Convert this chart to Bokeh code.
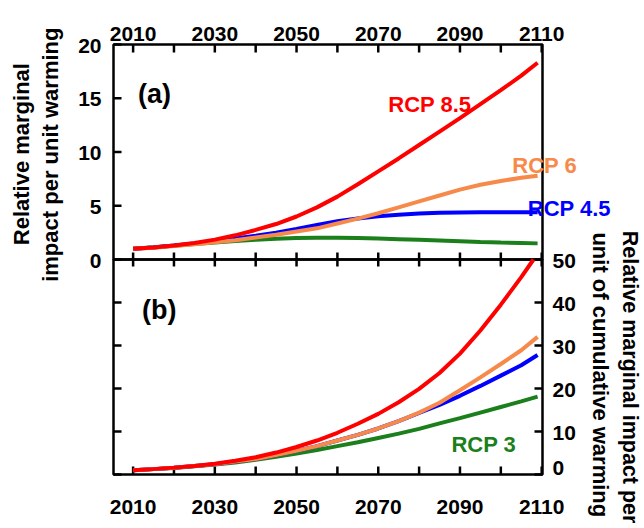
import math

from bokeh.core.properties import value
from bokeh.embed import file_html
from bokeh.models import Range1d
from bokeh.plotting import figure
from bokeh.resources import INLINE

# ---- data -----------------------------------------------------------------
years = [2010, 2015, 2020, 2025, 2030, 2035, 2040, 2045, 2050, 2055, 2060,
         2065, 2070, 2075, 2080, 2085, 2090, 2095, 2100, 2105, 2109]
years_red_b = years[:-2] + [2105, 2108]

# (a) relative marginal impact per unit warming
a_rcp85 = [1.0, 1.12, 1.3, 1.53, 1.85, 2.25, 2.75, 3.3, 4.0, 4.85, 5.85,
           7.0, 8.2, 9.4, 10.65, 11.9, 13.15, 14.45, 15.75, 17.1, 18.3]
a_rcp6 = [1.0, 1.1, 1.25, 1.42, 1.6, 1.8, 2.05, 2.3, 2.6, 2.9, 3.35,
          3.8, 4.3, 4.85, 5.4, 5.95, 6.5, 6.95, 7.3, 7.6, 7.8]
a_rcp45 = [1.0, 1.12, 1.3, 1.5, 1.72, 1.95, 2.2, 2.5, 2.85, 3.22, 3.55,
           3.82, 4.02, 4.16, 4.27, 4.34, 4.37, 4.39, 4.4, 4.4, 4.4]
a_rcp3 = [1.0, 1.13, 1.28, 1.43, 1.58, 1.72, 1.84, 1.93, 1.99, 2.02, 2.02,
          1.99, 1.95, 1.89, 1.83, 1.76, 1.69, 1.62, 1.57, 1.53, 1.5]

# (b) relative marginal impact per unit of cumulative warming
b_rcp85 = [1.0, 1.25, 1.6, 2.0, 2.5, 3.2, 4.0, 5.1, 6.4, 7.9, 9.7,
           11.8, 14.1, 16.8, 19.9, 23.6, 28.1, 33.5, 39.5, 45.9, 50.0]
b_rcp6 = [1.0, 1.25, 1.55, 1.95, 2.4, 3.0, 3.6, 4.5, 5.5, 6.6, 7.9,
          9.2, 10.7, 12.4, 14.4, 16.7, 19.6, 22.6, 25.7, 28.9, 32.0]
b_rcp45 = [1.0, 1.25, 1.55, 1.95, 2.4, 3.0, 3.6, 4.5, 5.5, 6.6, 7.9,
           9.2, 10.7, 12.4, 14.3, 16.2, 18.3, 20.6, 23.0, 25.4, 27.8]
b_rcp3 = [1.0, 1.25, 1.5, 1.9, 2.3, 2.8, 3.4, 4.1, 4.9, 5.7, 6.6,
          7.5, 8.5, 9.5, 10.6, 11.9, 13.1, 14.4, 15.7, 17.0, 18.1]

x_ticks = [2010, 2020, 2030, 2040, 2050, 2060, 2070, 2080, 2090, 2100, 2110]
x_labels = [2010, 2030, 2050, 2070, 2090, 2110]
a_ticks = [0, 5, 10, 15, 20]
b_ticks = [0, 10, 20, 30, 40, 50]

# ---- styling --------------------------------------------------------------
RED = "#FF0000"
ORANGE = "#F7894A"
BLUE = "#0000FF"
GREEN = "#1B7F1B"
FONT = value("Liberation Sans")
TICK_FONT = "21px"
TITLE_FONT = "22px"
FRAME_W = 2.5
LW = 4

# ---- geometry: both panels share one canvas -------------------------------
W, H = 644, 528
X_LO, X_HI = 2005.2, 2110.2          # year span of the panel boxes
A_LO, A_HI = 0.0, 20.0               # panel (a) value span
B_LO, B_HI = 0.0, 50.0               # panel (b) value span
BOX_LEFT, BOX_RIGHT = 113, 542       # pixel edges of the boxes
BOX_TOP, BOX_MID, BOX_BOTTOM = 44, 259, 474

px_per_year = (BOX_RIGHT - BOX_LEFT) / (X_HI - X_LO)
px_per_a = (BOX_MID - BOX_TOP) / (A_HI - A_LO)
px_per_b = (BOX_BOTTOM - BOX_MID) / (B_HI - B_LO)

x_range = Range1d(X_LO - BOX_LEFT / px_per_year,
                  X_HI + (W - BOX_RIGHT) / px_per_year)
a_range = Range1d(A_LO - (H - BOX_MID) / px_per_a,
                  A_HI + BOX_TOP / px_per_a)
b_range = Range1d(B_LO - (H - BOX_BOTTOM) / px_per_b,
                  B_HI + BOX_MID / px_per_b)

p = figure(width=W, height=H, x_range=x_range, y_range=a_range,
           x_axis_location=None, y_axis_location=None,
           output_backend="svg", toolbar_location=None, min_border=0)
p.extra_y_ranges = {"b": b_range}
p.outline_line_color = None
p.background_fill_color = "white"
p.border_fill_color = "white"
for g in p.grid:
    g.visible = False

# ---- panel boxes ------------------------------------------------------------
p.quad(left=[X_LO], right=[X_HI], bottom=[A_LO], top=[A_HI],
       fill_color=None, line_color="black", line_width=FRAME_W)
p.quad(left=[X_LO], right=[X_HI], bottom=[B_LO], top=[B_HI],
       fill_color=None, line_color="black", line_width=FRAME_W,
       y_range_name="b")


# ---- inward ticks -----------------------------------------------------------
def ticks(x, y, angle, length=8, y_range="default"):
    p.ray(x=x, y=y, length=length, length_units="screen", angle=angle,
          line_color="black", line_width=FRAME_W, y_range_name=y_range)


n = len(x_ticks)
ticks(x_ticks, [A_HI] * n, -math.pi / 2)                      # top edge
ticks(x_ticks, [A_LO] * n, math.pi / 2, length=7)             # divider, up
ticks(x_ticks, [A_LO] * n, -math.pi / 2, length=7)            # divider, down
ticks(x_ticks, [B_LO] * n, math.pi / 2, y_range="b")          # bottom edge
ticks([X_LO] * len(a_ticks), a_ticks, 0.0)                    # left, (a)
ticks([X_LO] * len(b_ticks), b_ticks, 0.0, y_range="b")       # left, (b)
ticks([X_HI] * len(b_ticks), b_ticks, math.pi, y_range="b")   # right, (b)


# ---- text helper ----------------------------------------------------------
def text(x, y, t, color="black", size=TICK_FONT, align="center",
         baseline="alphabetic", angle=0.0, dx=0, dy=0, y_range="default"):
    p.text(x=x, y=y, text=t, text_color=color, text_font=FONT,
           text_font_style="bold", text_font_size=size, angle=angle,
           text_align=align, text_baseline=baseline, x_offset=dx, y_offset=dy,
           y_range_name=y_range)


# tick labels
nl = len(x_labels)
text(x_labels, [A_HI] * nl, [str(v) for v in x_labels], dy=-11)
text(x_labels, [B_LO] * nl, [str(v) for v in x_labels], dy=32, y_range="b")
text([X_LO] * len(a_ticks), a_ticks, [str(v) for v in a_ticks],
     align="right", baseline="middle", dx=-12, dy=1)
text([X_HI] * len(b_ticks), b_ticks, [str(v) for v in b_ticks],
     align="left", baseline="middle", dx=10,
     dy=[-7 if v == B_LO else 1 for v in b_ticks], y_range="b")

# ---- curves ----------------------------------------------------------------
p.line(years, a_rcp3, line_color=GREEN, line_width=LW)
p.line(years, a_rcp45, line_color=BLUE, line_width=LW)
p.line(years, a_rcp6, line_color=ORANGE, line_width=LW)
p.line(years, a_rcp85, line_color=RED, line_width=LW)

p.line(years, b_rcp3, line_color=GREEN, line_width=LW, y_range_name="b")
p.line(years, b_rcp45, line_color=BLUE, line_width=LW, y_range_name="b")
p.line(years, b_rcp6, line_color=ORANGE, line_width=LW, y_range_name="b")
p.line(years_red_b, b_rcp85, line_color=RED, line_width=LW, y_range_name="b")

# ---- panel tags and scenario names -----------------------------------------
text([2011.2], [15.4], ["(a)"], size="27px", align="left")
text([2012.2], [38.3], ["(b)"], size="27px", align="left", y_range="b")

text([2072.45], [14.4], ["RCP 8.5"], color=RED, size=TITLE_FONT, align="left")
text([2102.8], [8.74], ["RCP 6"], color=ORANGE, size=TITLE_FONT, align="left")
text([2106.6], [4.72], ["RCP 4.5"], color=BLUE, size=TITLE_FONT, align="left")
text([2087.9], [6.9], ["RCP 3"], color=GREEN, size=TITLE_FONT, align="left",
     y_range="b")

# ---- axis titles -------------------------------------------------------------
text([1982.8], [9.8], ["Relative marginal"], size=TITLE_FONT,
     baseline="middle", angle=math.pi / 2)
text([1989.9], [9.75], ["impact per unit warming"], size=TITLE_FONT,
     baseline="middle", angle=math.pi / 2)
text([2131.7], [56.7], ["Relative marginal impact per"], size="21.5px",
     align="left", baseline="middle", angle=-math.pi / 2, y_range="b")
text([2124.4], [56.3], ["unit of cumulative warming"], size=TITLE_FONT,
     align="left", baseline="middle", angle=-math.pi / 2, y_range="b")

open("out.html", "w").write(file_html(p, INLINE))
